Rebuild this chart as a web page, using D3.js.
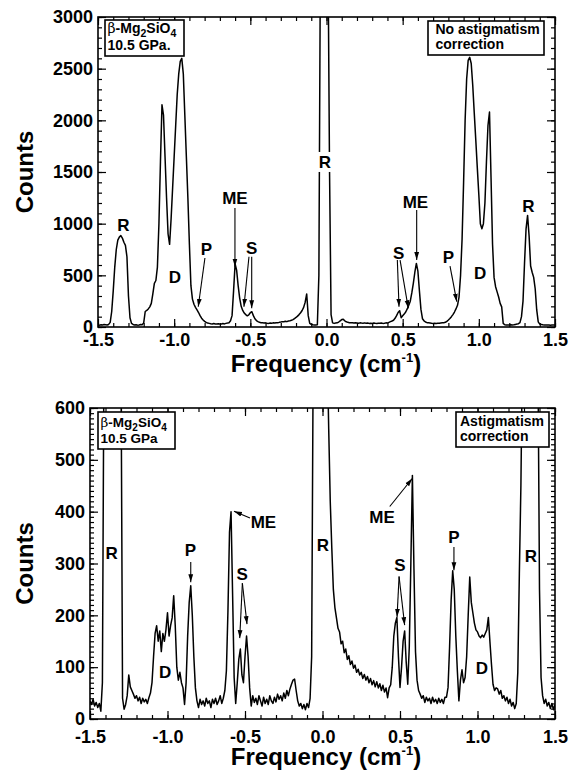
<!DOCTYPE html>
<html>
<head>
<meta charset="utf-8">
<title></title>
<script src="https://d3js.org/d3.v7.min.js" charset="utf-8"></script>
<style>
    body { margin: 0; background: #fff; }
    text { font-family: "Liberation Sans", Arial, sans-serif; font-weight: bold; fill: #000; }
    .tick text { font-size: 18px; }
    .tick line { stroke: #000; stroke-width: 1.2; }
    .domain { display: none; }
</style>
</head>
<body>
<script>
    // spectra are sampled every 0.01 cm-1 starting at -1.5
    var freqStart = -1.5,
        freqStep = 0.01;

    // top panel: no astigmatism correction
    var countsNoCorr = [
        20, 18, 22, 19, 24, 22, 20, 25, 45, 150,
        350, 580, 750, 840, 870, 885, 860, 820, 790, 680,
        300, 90, 35, 25, 20, 22, 18, 20, 25, 22,
        40, 150, 160, 175, 195, 229, 320, 423, 450, 580,
        1000, 1600, 2150, 2050, 1650, 1250, 900, 800, 1050, 1350,
        1650, 1950, 2250, 2450, 2570, 2600, 2450, 2050, 1650, 1250,
        800, 400, 270, 220, 190, 165, 140, 110, 85, 68,
        55, 45, 38, 35, 32, 30, 33, 29, 30, 32,
        28, 30, 33, 30, 35, 38, 42, 60, 110, 350,
        610, 550, 400, 280, 200, 160, 135, 120, 108, 118,
        138, 148, 110, 80, 62, 52, 46, 42, 40, 38,
        40, 37, 35, 38, 36, 40, 38, 42, 40, 45,
        48, 52, 50, 55, 52, 58, 60, 65, 72, 82,
        92, 105, 120, 138, 160, 190, 240, 320, 110, 35,
        25, 22, 20, 20, 22, 500, 9000, 9000, 9000, 9000,
        9000, 9000, 1500, 120, 40, 35, 38, 40, 48, 60,
        72, 74, 60, 50, 45, 42, 40, 42, 38, 40,
        38, 36, 40, 38, 37, 40, 36, 38, 35, 37,
        35, 38, 36, 35, 37, 36, 38, 35, 37, 40,
        38, 45, 52, 58, 65, 84, 110, 140, 158, 90,
        108, 125, 145, 175, 210, 250, 330, 423, 530, 615,
        540, 350, 170, 80, 60, 48, 42, 40, 38, 36,
        35, 36, 35, 37, 36, 38, 40, 42, 45, 55,
        68, 82, 100, 120, 145, 175, 210, 290, 500, 850,
        1400, 2000, 2400, 2580, 2610, 2550, 2340, 2070, 1810, 1540,
        1280, 1000, 950, 1000, 1200, 1600, 1950, 2080, 1450, 800,
        480, 390, 340, 290, 229, 195, 35, 22, 20, 19,
        20, 22, 20, 22, 25, 28, 32, 42, 100, 250,
        620, 950, 1080, 880, 590, 530, 480, 370, 165, 50,
        28, 25, 22, 20, 20, 19, 20, 18, 20, 19,
        20
    ];

    // bottom panel: astigmatism correction
    var countsCorr = [
        35, 28, 38, 25, 32, 22, 30, 15, 70, 700,
        1400, 2000, 2400, 2600, 2700, 2650, 2500, 2200, 1800, 1300,
        700, 40, 19, 28, 45, 85, 62, 55, 48, 40,
        45, 35, 42, 30, 40, 33, 38, 30, 41, 50,
        70, 120, 165, 180, 150, 170, 130, 165, 150, 172,
        205, 160, 180, 195, 238, 180, 100, 75, 90, 70,
        60, 28, 70, 160, 225, 257, 200, 120, 60, 35,
        22, 38, 28, 35, 25, 40, 30, 35, 22, 38,
        30, 40, 28, 35, 45, 30, 40, 55, 93, 209,
        360, 400, 240, 80, 30, 70, 115, 135, 85, 70,
        120, 160, 120, 60, 25, 45, 32, 40, 28, 45,
        35, 25, 42, 30, 38, 28, 45, 35, 30, 42,
        33, 48, 38, 45, 35, 50, 40, 55, 45, 58,
        67, 75, 77, 55, 35, 25, 30, 20, 28, 18,
        30, 22, 40, 120, 700, 1500, 3000, 4500, 5000, 5000,
        5000, 4000, 2500, 1000, 560, 420, 330, 250, 215, 195,
        175, 168, 145, 150, 128, 135, 115, 122, 105, 112,
        98, 104, 90, 96, 85, 90, 78, 86, 75, 82,
        70, 78, 66, 74, 62, 72, 60, 68, 55, 65,
        52, 60, 41, 60, 66, 100, 160, 185, 196, 120,
        61, 100, 150, 170, 110, 67, 140, 300, 470, 290,
        130, 75, 55, 48, 40, 45, 32, 42, 35, 40,
        30, 42, 33, 38, 30, 40, 32, 38, 30, 42,
        42, 61, 140, 230, 286, 250, 160, 93, 35, 75,
        95, 70, 80, 120, 200, 274, 225, 205, 185, 172,
        168, 160, 157, 162, 158, 165, 172, 196, 150, 106,
        67, 55, 60, 58, 48, 55, 40, 45, 35, 42,
        30, 38, 25, 32, 20, 30, 90, 280, 450, 1000,
        1500, 1900, 2200, 2400, 2450, 2300, 2000, 1600, 1100, 700,
        250, 80, 45, 30, 38, 25, 32, 20, 30, 18,
        28
    ];

    var freqTicks = [-1.5, -1.0, -0.5, 0.0, 0.5, 1.0, 1.5];
    var countTicksTop = [0, 500, 1000, 1500, 2000, 2500, 3000];
    var countTicksBottom = [0, 100, 200, 300, 400, 500, 600];

    // peak labels, placed in data units (frequency, counts)
    var peakLabelsTop = [
        {t: "R", f: -1.333, c: 929}, {t: "D", f: -0.995, c: 426},
        {t: "P", f: -0.788, c: 697}, {t: "ME", f: -0.601, c: 1190},
        {t: "S", f: -0.492, c: 706}, {t: "R", f: -0.010, c: 1539, bg: true},
        {t: "S", f: 0.473, c: 658}, {t: "ME", f: 0.584, c: 1152},
        {t: "P", f: 0.801, c: 619}, {t: "D", f: 1.008, c: 465},
        {t: "R", f: 1.326, c: 1113}
    ];
    var arrowsTop = [
        [-0.798, 668, -0.842, 196], [-0.601, 1152, -0.601, 584],
        [-0.509, 680, -0.542, 196], [-0.491, 680, -0.491, 181],
        [0.465, 648, 0.476, 196], [0.483, 648, 0.537, 181],
        [0.592, 1132, 0.592, 648], [0.811, 590, 0.855, 245]
    ];
    var peakLabelsBottom = [
        {t: "R", f: -1.361, c: 309}, {t: "D", f: -1.016, c: 79},
        {t: "P", f: -0.852, c: 314}, {t: "ME", f: -0.381, c: 368},
        {t: "S", f: -0.519, c: 268}, {t: "R", f: 0.003, c: 324},
        {t: "ME", f: 0.384, c: 378}, {t: "S", f: 0.500, c: 286},
        {t: "P", f: 0.848, c: 340}, {t: "D", f: 1.029, c: 87},
        {t: "R", f: 1.345, c: 303}
    ];
    var arrowsBottom = [
        [-0.850, 303, -0.850, 264], [-0.468, 388, -0.571, 401],
        [-0.517, 262, -0.534, 156], [-0.517, 262, -0.487, 183],
        [0.434, 410, 0.579, 464],
        [0.494, 275, 0.481, 197], [0.494, 275, 0.530, 181],
        [0.848, 332, 0.848, 287]
    ];

    var w = 579, h = 775;

    var svg = d3.select("body")
            .append("svg")
            .attr("width", w)
            .attr("height", h);

    svg.append("defs").append("marker")
            .attr("id", "head")
            .attr("viewBox", "0 0 8 6")
            .attr("refX", 8)
            .attr("refY", 3)
            .attr("markerWidth", 8)
            .attr("markerHeight", 6)
            .attr("markerUnits", "userSpaceOnUse")
            .attr("orient", "auto")
            .append("path")
            .attr("d", "M0,0.6L8,3L0,5.4Z")
            .attr("fill", "#000");

    var panels = [
        {id: "top", counts: countsNoCorr, yTicks: countTicksTop, minor: 100,
            l: 98, r: 555, t: 17, b: 327, xPad: 6, titleY: 372,
            labels: peakLabelsTop, arrows: arrowsTop,
            boxes: [
                {x: 105, y: 20, w: 79, h: 36, fs: 14, lines: [["beta", 107.5, 33], ["10.5 GPa.", 107.5, 49.5]]},
                {x: 428, y: 21, w: 116, h: 34, fs: 14, lines: [["No astigmatism", 435.5, 34], ["correction", 435.5, 49]]}
            ]},
        {id: "bottom", counts: countsCorr, yTicks: countTicksBottom, minor: 10,
            l: 90, r: 555, t: 408, b: 719, xPad: 11, titleY: 765,
            labels: peakLabelsBottom, arrows: arrowsBottom,
            boxes: [
                {x: 98, y: 412, w: 77, h: 37, fs: 13.5, lines: [["beta", 100.5, 427], ["10.5 GPa", 100.5, 443]]},
                {x: 456, y: 412, w: 93, h: 35, fs: 14, lines: [["Astigmatism", 460, 426], ["correction", 460, 441]]}
            ]}
    ];

    panels.forEach(function (p) {
        var x = d3.scaleLinear().domain([-1.5, 1.5]).range([p.l, p.r]);
        var yMax = p.yTicks[p.yTicks.length - 1];
        var y = d3.scaleLinear().domain([0, yMax]).range([p.b, p.t]);
        var g = svg.append("g");

        g.append("clipPath").attr("id", "clip-" + p.id)
                .append("rect")
                .attr("x", p.l).attr("y", p.t)
                .attr("width", p.r - p.l).attr("height", p.b - p.t);

        // spectrum
        var line = d3.line()
                .x(function (d, i) { return x(freqStart + i * freqStep); })
                .y(function (d) { return y(Math.min(d, yMax * 1.2)); });
        g.append("path")
                .datum(p.counts)
                .attr("clip-path", "url(#clip-" + p.id + ")")
                .attr("d", line)
                .attr("fill", "none")
                .attr("stroke", "#000")
                .attr("stroke-width", 1.5)
                .attr("stroke-linejoin", "round");

        // ticks, all pointing inward
        var xMinor = d3.range(-15, 16).map(function (i) { return i / 10; });
        var yMinor = d3.range(0, yMax + 1, p.minor);
        var fmt = function (d) { return d.toFixed(1); };

        g.append("g").attr("transform", "translate(0," + p.b + ")")
                .call(d3.axisBottom(x).tickValues(xMinor).tickSize(-4).tickSizeOuter(0).tickFormat(""));
        g.append("g").attr("transform", "translate(0," + p.b + ")")
                .call(d3.axisBottom(x).tickValues(freqTicks).tickSize(-8).tickSizeOuter(0)
                        .tickPadding(p.xPad).tickFormat(fmt));
        g.append("g").attr("transform", "translate(0," + p.t + ")")
                .call(d3.axisTop(x).tickValues(xMinor).tickSize(-4).tickSizeOuter(0).tickFormat(""));
        g.append("g").attr("transform", "translate(0," + p.t + ")")
                .call(d3.axisTop(x).tickValues(freqTicks).tickSize(-8).tickSizeOuter(0).tickFormat(""));

        g.append("g").attr("transform", "translate(" + p.l + ",0)")
                .call(d3.axisLeft(y).tickValues(yMinor).tickSize(-4).tickSizeOuter(0).tickFormat(""));
        g.append("g").attr("transform", "translate(" + p.l + ",0)")
                .call(d3.axisLeft(y).tickValues(p.yTicks).tickSize(-8).tickSizeOuter(0)
                        .tickPadding(5).tickFormat(d3.format("d")));
        g.append("g").attr("transform", "translate(" + p.r + ",0)")
                .call(d3.axisRight(y).tickValues(yMinor).tickSize(-4).tickSizeOuter(0).tickFormat(""));
        g.append("g").attr("transform", "translate(" + p.r + ",0)")
                .call(d3.axisRight(y).tickValues(p.yTicks).tickSize(-8).tickSizeOuter(0).tickFormat(""));

        g.append("rect")
                .attr("x", p.l).attr("y", p.t)
                .attr("width", p.r - p.l).attr("height", p.b - p.t)
                .attr("fill", "none")
                .attr("stroke", "#000")
                .attr("stroke-width", 1.6);

        // arrows
        g.selectAll("line.arrow")
                .data(p.arrows)
                .enter()
                .append("line")
                .attr("class", "arrow")
                .attr("x1", function (d) { return x(d[0]); })
                .attr("y1", function (d) { return y(d[1]); })
                .attr("x2", function (d) { return x(d[2]); })
                .attr("y2", function (d) { return y(d[3]); })
                .attr("stroke", "#000")
                .attr("stroke-width", 1.1)
                .attr("marker-end", "url(#head)");

        // white patch behind labels that sit on top of a peak
        g.selectAll("rect.bg")
                .data(p.labels.filter(function (d) { return d.bg; }))
                .enter()
                .append("rect")
                .attr("x", function (d) { return x(d.f) - 7; })
                .attr("y", function (d) { return y(d.c) - 16; })
                .attr("width", 14)
                .attr("height", 20)
                .attr("fill", "#fff");

        g.selectAll("text.peak")
                .data(p.labels)
                .enter()
                .append("text")
                .attr("class", "peak")
                .attr("x", function (d) { return x(d.f); })
                .attr("y", function (d) { return y(d.c); })
                .attr("text-anchor", "middle")
                .style("font-size", "17px")
                .text(function (d) { return d.t; });

        // legend boxes
        p.boxes.forEach(function (b) {
            g.append("rect")
                    .attr("x", b.x).attr("y", b.y)
                    .attr("width", b.w).attr("height", b.h)
                    .attr("fill", "#fff")
                    .attr("stroke", "#000")
                    .attr("stroke-width", 1.6);
            b.lines.forEach(function (ln) {
                var t = g.append("text")
                        .attr("x", ln[1]).attr("y", ln[2])
                        .style("font-size", b.fs + "px");
                if (ln[0] === "beta") {
                    t.append("tspan").text("\u03B2")
                            .style("font-family", "'DejaVu Serif', serif")
                            .style("font-weight", "normal");
                    t.append("tspan").text("-Mg");
                    t.append("tspan").text("2").attr("dy", 4).style("font-size", (b.fs - 3.5) + "px");
                    t.append("tspan").text("SiO").attr("dy", -4);
                    t.append("tspan").text("4").attr("dy", 4).style("font-size", (b.fs - 3.5) + "px");
                } else {
                    t.text(ln[0]);
                }
            });
        });

        // axis titles
        g.append("text")
                .attr("transform", "translate(33," + ((p.t + p.b) / 2) + ") rotate(-90)")
                .attr("text-anchor", "middle")
                .style("font-size", "24px")
                .text("Counts");

        var title = g.append("text")
                .attr("x", 326)
                .attr("y", p.titleY)
                .attr("text-anchor", "middle")
                .style("font-size", "24px");
        title.append("tspan").text("Frequency (cm");
        title.append("tspan").text("-1").attr("dy", -10).style("font-size", "13px");
        title.append("tspan").text(")").attr("dy", 10);
    });
</script>
</body>
</html>
